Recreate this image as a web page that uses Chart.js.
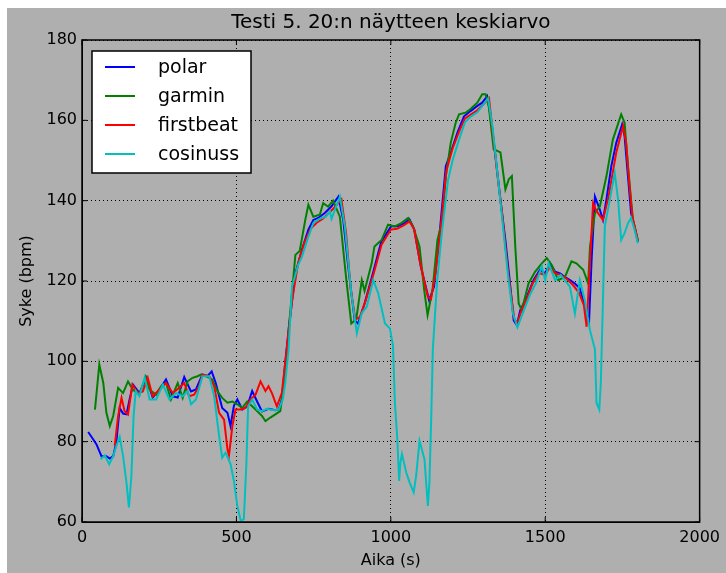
<!DOCTYPE html>
<html>
<head>
<meta charset="utf-8">
<script src="https://cdn.jsdelivr.net/npm/chart.js@4.4.1/dist/chart.umd.min.js"></script>
<style>
    html, body { margin: 0; padding: 0; background: #ffffff; }
    #figure { position: absolute; left: 7px; top: 8px; width: 719px; height: 565px; background: #afafaf; }
</style>
</head>
<body>
<div id="figure"><canvas id="hr_chart"></canvas></div>
<script>
// Heart rate averages (20 samples), time in seconds
var seriesNames = ['polar', 'garmin', 'firstbeat', 'cosinuss'];
var seriesColors = ['#0000ff', '#008000', '#ff0000', '#00bfbf'];
var xTicks = [0, 500, 1000, 1500, 2000];
var yTicks = [60, 80, 100, 120, 140, 160, 180];

var polarTime = [20, 36, 47, 63, 79, 90, 101, 111, 122, 133, 144, 154, 165, 186, 208, 229, 251, 272, 294, 310,
    331, 353, 369, 390, 406, 420, 433, 454, 471, 481, 492, 503, 519, 535, 551, 567, 583, 604, 626, 637,
    647, 658, 670, 691, 712, 733, 749, 765, 787, 808, 830, 846, 862, 883, 894, 915, 942, 969, 1001, 1022,
    1044, 1060, 1076, 1097, 1124, 1140, 1157, 1178, 1194, 1216, 1237, 1258, 1280, 1296, 1312, 1323, 1339, 1355, 1371, 1387,
    1398, 1408, 1419, 1440, 1462, 1483, 1499, 1516, 1532, 1548, 1564, 1580, 1596, 1612, 1623, 1634, 1642, 1650, 1661, 1677,
    1687, 1698, 1714, 1730, 1749, 1757, 1768, 1778, 1789, 1800];
var polarHr = [82.4, 80.6, 79.3, 76.4, 76.4, 75.8, 76.4, 79.8, 88.4, 87, 86.8, 90.5, 94.2, 92.1, 95.9, 91, 93, 95.5, 91.3, 91,
    96.1, 92.5, 93, 96.7, 96.3, 97.5, 94.6, 88.4, 87.2, 83.9, 89, 90.5, 88, 88.8, 92.6, 90, 87.5, 88.2, 87.8, 88,
    90.5, 99.6, 108.6, 121.9, 127.8, 132.8, 135.2, 135.7, 137, 138.6, 141, 135.2, 123.6, 110.2, 109.4, 114.4, 121.9, 129.8, 133.6, 133.6,
    134.4, 135.4, 132.8, 123.6, 115.2, 118.6, 131, 148.6, 152, 157, 161, 162.3, 163.6, 164.4, 166, 161, 151, 140.2, 130.2, 118.6,
    110.2, 109, 112.7, 116, 120.2, 122.8, 121.9, 124.4, 122.3, 121.9, 121, 120.2, 119.4, 118.2, 115.2, 111.9, 110, 125, 141, 137.7,
    135.2, 140.2, 148.6, 154.4, 159, 156, 146, 136.9, 133.6, 129.8];

var garminTime = [42, 56, 69, 79, 90, 101, 117, 133, 149, 165, 186, 206, 219, 240, 256, 272, 288, 310, 326, 342,
    358, 374, 385, 401, 422, 438, 454, 471, 487, 503, 519, 535, 551, 567, 583, 594, 610, 626, 642, 658,
    670, 691, 705, 723, 733, 749, 770, 781, 797, 813, 835, 856, 872, 888, 906, 915, 938, 947, 970, 991,
    1013, 1034, 1056, 1072, 1093, 1108, 1119, 1135, 1151, 1167, 1178, 1194, 1210, 1221, 1242, 1258, 1280, 1296, 1307, 1317,
    1333, 1355, 1371, 1382, 1392, 1403, 1414, 1424, 1446, 1467, 1489, 1505, 1521, 1542, 1564, 1585, 1601, 1623, 1639, 1645,
    1661, 1677, 1698, 1719, 1746, 1757, 1768, 1784, 1800];
var garminHr = [88, 99.2, 94.6, 87.2, 83.9, 86.4, 93.4, 92.1, 95, 92.9, 91.7, 96.1, 92.9, 91.7, 93.8, 94.6, 90.5, 94.6, 90.9, 95,
    95.9, 96.3, 96.7, 96.3, 95.5, 92.6, 90.9, 89.7, 90, 89.3, 88.4, 90, 88.8, 87.6, 86.4, 85.1, 86, 86.8, 87.6, 96.3,
    108.6, 126.5, 127.5, 135.2, 139, 136, 136.5, 139.4, 138.5, 140, 136, 120.2, 109.4, 110.5, 120.2, 117.5, 124.4, 128.6, 130.2, 134,
    133.6, 134.4, 135.7, 133.6, 128.6, 117.8, 111.5, 117.8, 130.2, 135.2, 146, 154.4, 159.4, 161.5, 161.9, 162.8, 164.4, 166.5, 166.5, 163.6,
    152.8, 152, 142.8, 145.3, 146.1, 128.6, 114.4, 112.7, 119.4, 122.3, 124.4, 125.7, 124, 120.2, 121, 124.9, 124.4, 122.8, 119.4, 128.6,
    136.9, 138.6, 146, 155.2, 161.5, 159.4, 148.6, 135.2, 130.2];

var firstbeatTime = [106, 117, 128, 138, 149, 163, 181, 197, 213, 229, 251, 272, 294, 315, 331, 347, 363, 379, 390, 412,
    428, 444, 460, 471, 476, 487, 497, 513, 529, 546, 562, 578, 594, 604, 615, 631, 647, 663, 680, 700,
    720, 740, 760, 780, 800, 820, 840, 855, 870, 885, 900, 920, 945, 970, 1000, 1020, 1040, 1060, 1075, 1095,
    1120, 1130, 1145, 1160, 1180, 1200, 1220, 1240, 1260, 1280, 1300, 1318, 1330, 1345, 1360, 1380, 1400, 1410, 1420, 1440,
    1460, 1480, 1500, 1515, 1530, 1550, 1570, 1590, 1610, 1625, 1634, 1645, 1655, 1665, 1687, 1705, 1730, 1752, 1762, 1773,
    1782, 1800];
var firstbeatHr = [79, 86.4, 90.9, 87.6, 86.8, 94.2, 92.1, 92.5, 95.9, 91.3, 93, 94.6, 92.1, 93.4, 94.6, 91.3, 91.7, 93.8, 96.7, 96.3,
    93.8, 87.2, 85.5, 78.1, 76.6, 83.9, 88, 88, 88.4, 90.5, 91.7, 95, 92.6, 93.8, 92.1, 88.8, 92.1, 103, 115, 124.5,
    129.5, 133, 134.5, 135.5, 137, 138.5, 140.3, 132, 118, 110.5, 111, 115.5, 122, 129, 132.8, 133, 133.8, 134.8, 133, 124.5,
    116, 115.5, 122, 132, 147.5, 153, 157, 160.5, 161.5, 162.5, 164, 165.5, 157, 146.5, 137, 122, 110.5, 109.5, 112, 115.5,
    119.5, 122, 121.5, 123.5, 122, 121.5, 120.5, 119, 117, 114, 108.6, 125, 139.4, 137.5, 135.2, 141, 152, 158.6, 154.4, 143.6,
    136.1, 130];

var cosinussTime = [60, 74, 88, 101, 111, 122, 133, 144, 152, 160, 167, 174, 186, 203, 219, 240, 262, 283, 304, 326,
    342, 353, 369, 390, 412, 428, 444, 454, 465, 481, 492, 503, 514, 524, 532, 538, 551, 567, 583, 599,
    621, 637, 650, 658, 669, 680, 700, 712, 733, 749, 770, 790, 803, 808, 835, 851, 872, 890, 906, 922,
    943, 959, 981, 997, 1007, 1013, 1021, 1027, 1031, 1036, 1050, 1061, 1074, 1082, 1093, 1099, 1109, 1120, 1125, 1131,
    1136, 1150, 1165, 1185, 1200, 1220, 1240, 1260, 1280, 1300, 1315, 1330, 1345, 1360, 1380, 1395, 1410, 1430, 1450, 1470,
    1489, 1500, 1511, 1532, 1550, 1565, 1580, 1596, 1612, 1628, 1645, 1661, 1666, 1675, 1680, 1693, 1709, 1725, 1736, 1746,
    1757, 1768, 1778, 1789, 1800];
var cosinussHr = [75.6, 76.6, 74.4, 76.4, 78.9, 81.2, 76.4, 69.8, 63.6, 71.5, 86.4, 92.6, 91.3, 95.9, 90.5, 90.5, 94.2, 90.5, 92.1, 91.3,
    92.6, 89.3, 90.5, 96.3, 96.3, 91.3, 81.4, 76, 77.3, 74.4, 70.2, 64, 60.3, 60.7, 74, 88.8, 90.5, 88, 87.6, 88.2,
    87.8, 88, 90.5, 94.6, 103, 118.6, 124, 126, 131, 134.4, 135.5, 136, 137.3, 135.5, 141, 133.6, 117, 107, 112, 113.6,
    120.2, 117, 109.4, 108.2, 104, 90, 80.6, 70.2, 74.8, 76.9, 72.3, 69.8, 67.4, 71.5, 80.2, 78.5, 75.6, 64, 69.8, 86.4,
    103, 120, 132, 145, 150, 155, 159.5, 161, 162, 164, 165.5, 158, 147, 136, 121, 112, 108.5, 112.5, 116.5, 119.5,
    123.6, 120.2, 124.4, 120.2, 121.5, 120, 118.6, 111.9, 120.2, 115.2, 107.7, 103, 89.7, 88, 94.6, 133.6, 140.2, 146.9, 140.2, 130.2,
    131.9, 134.4, 135.7, 132.8, 129.4];

var seriesTimes = [polarTime, garminTime, firstbeatTime, cosinussTime];
var seriesValues = [polarHr, garminHr, firstbeatHr, cosinussHr];

(function () {
    'use strict';
    var FONT = 'DejaVu Sans';

    function points(times, values) {
        return times.map(function (t, i) { return { x: t, y: values[i] }; });
    }

    //Inward ticks, axes frame and legend box drawn over the plot
    var frameAndLegend = {
        id: 'frameAndLegend',
        afterDraw: function (chart) {
            var ctx = chart.ctx;
            var a = chart.chartArea;
            var xs = chart.scales.x;
            var ys = chart.scales.y;
            ctx.save();
            ctx.strokeStyle = '#000';
            ctx.lineWidth = 1;
            ctx.beginPath();
            xTicks.forEach(function (v) {
                var px = xs.getPixelForValue(v);
                ctx.moveTo(px, a.bottom); ctx.lineTo(px, a.bottom - 5);
                ctx.moveTo(px, a.top); ctx.lineTo(px, a.top + 5);
            });
            yTicks.forEach(function (v) {
                var py = ys.getPixelForValue(v);
                ctx.moveTo(a.left, py); ctx.lineTo(a.left + 5, py);
                ctx.moveTo(a.right, py); ctx.lineTo(a.right - 5, py);
            });
            ctx.stroke();
            ctx.lineWidth = 1.5;
            ctx.strokeRect(a.left, a.top, a.right - a.left, a.bottom - a.top);

            // legend
            var lx = a.left + 10, ly = a.top + 11;
            ctx.fillStyle = '#fff';
            ctx.fillRect(lx, ly, 159, 122);
            ctx.lineWidth = 1.5;
            ctx.strokeRect(lx, ly, 159, 122);
            ctx.font = '19px "' + FONT + '"';
            ctx.textBaseline = 'middle';
            ctx.textAlign = 'left';
            seriesNames.forEach(function (name, i) {
                var ry = ly + 16 + i * 29;
                ctx.strokeStyle = seriesColors[i];
                ctx.lineWidth = 2;
                ctx.beginPath();
                ctx.moveTo(lx + 13, ry); ctx.lineTo(lx + 43, ry);
                ctx.stroke();
                ctx.fillStyle = '#000';
                ctx.fillText(name, lx + 66, ry + 1);
            });
            ctx.restore();
        }
    };

    var datasets = seriesNames.map(function (name, i) {
        return {
            label: name,
            data: points(seriesTimes[i], seriesValues[i]),
            borderColor: seriesColors[i],
            backgroundColor: seriesColors[i],
            borderWidth: 2,
            pointRadius: 0,
            tension: 0,
            fill: false,
            order: seriesNames.length - i
        };
    });

    var gridStyle = {
        color: '#000',
        lineWidth: 1,
        drawTicks: false
    };
    var dotted = { display: true, color: '#000', width: 1, dash: [1, 3] };

    function plainLabel(value) { return String(value); }

    var config = {
        type: 'line',
        data: { datasets: datasets },
        options: {
            responsive: true,
            maintainAspectRatio: false,
            animation: false,
            layout: { padding: { left: 0, right: 23, top: 0, bottom: 0 } },
            plugins: {
                legend: { display: false },
                tooltip: { enabled: false },
                title: {
                    display: true,
                    text: 'Testi 5. 20:n näytteen keskiarvo',
                    color: '#000',
                    fullSize: false,
                    font: { family: FONT, size: 20, weight: 'normal' },
                    padding: { top: 3, bottom: 5 }
                }
            },
            scales: {
                x: {
                    type: 'linear',
                    min: 0,
                    max: 2000,
                    afterFit: function (scale) { scale.height = 51; },
                    afterBuildTicks: function (scale) {
                        scale.ticks = xTicks.map(function (v) { return { value: v }; });
                    },
                    ticks: { color: '#000', padding: 6, font: { family: FONT, size: 16 }, callback: plainLabel },
                    grid: gridStyle,
                    border: dotted,
                    title: {
                        display: true,
                        text: 'Aika (s)',
                        color: '#000',
                        font: { family: FONT, size: 16 },
                        padding: { top: 0, bottom: 3 }
                    }
                },
                y: {
                    min: 60,
                    max: 180,
                    afterFit: function (scale) { scale.width = 75; },
                    afterBuildTicks: function (scale) {
                        scale.ticks = yTicks.map(function (v) { return { value: v }; });
                    },
                    ticks: { color: '#000', padding: 5, font: { family: FONT, size: 16 }, callback: plainLabel },
                    grid: gridStyle,
                    border: dotted,
                    title: {
                        display: true,
                        text: 'Syke (bpm)',
                        color: '#000',
                        font: { family: FONT, size: 16 },
                        padding: { top: 10, bottom: 0 }
                    }
                }
            }
        },
        plugins: [frameAndLegend]
    };

    var chart = new Chart(document.getElementById('hr_chart').getContext('2d'), config);
}());
</script>
</body>
</html>
